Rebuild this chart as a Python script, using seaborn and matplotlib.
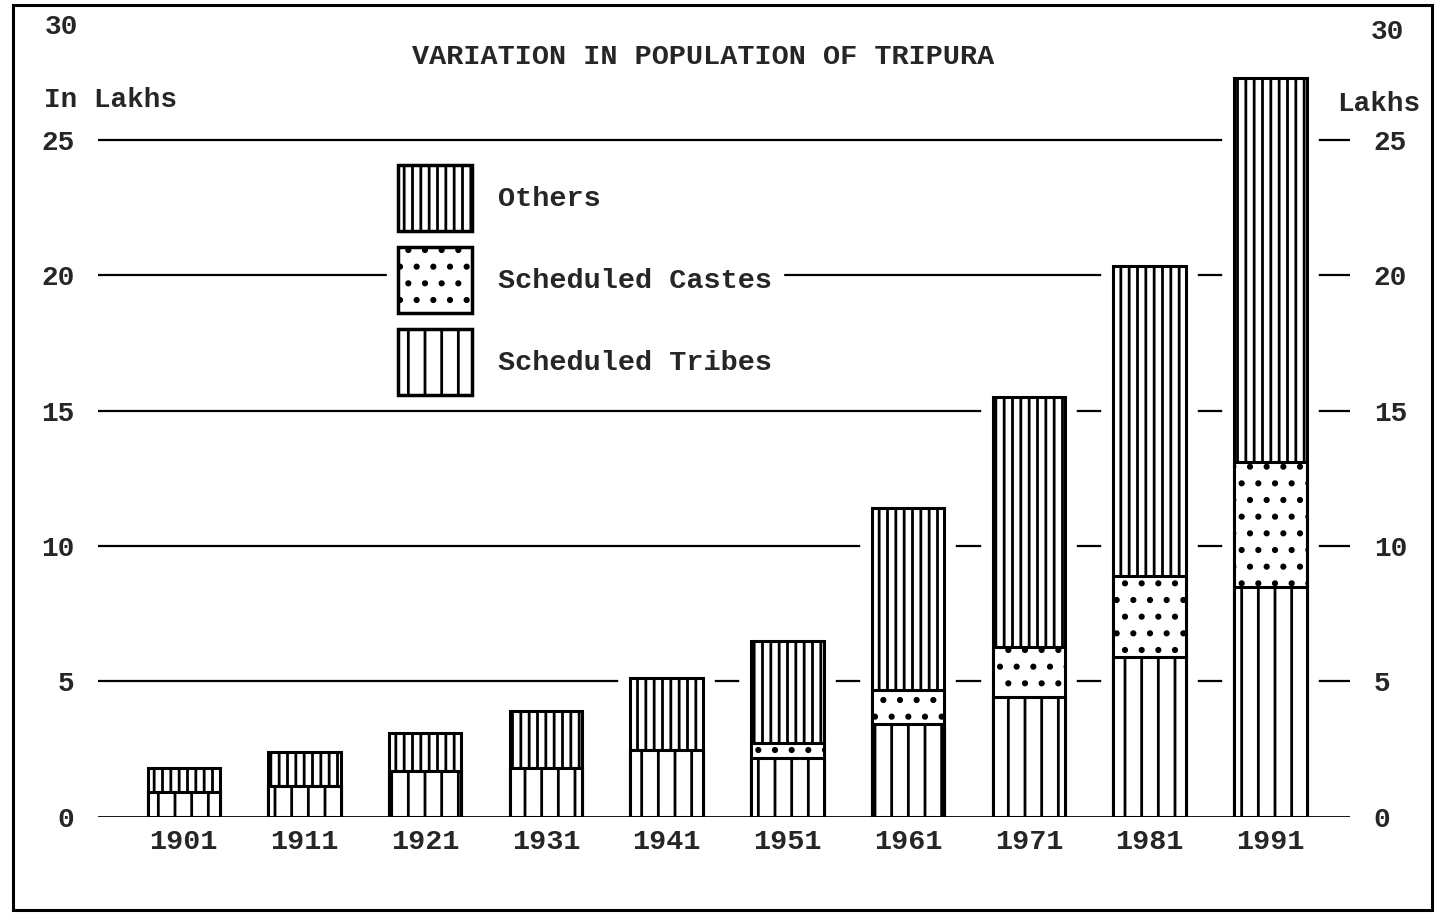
import numpy as np
import pandas as pd
import matplotlib.pyplot as plt
import matplotlib.patches as mpatches
import seaborn as sns

# population of Tripura, in lakhs
years = ['1901', '1911', '1921', '1931', '1941', '1951', '1961', '1971', '1981', '1991']
tribes = [0.92, 1.14, 1.70, 1.81, 2.47, 2.18, 3.43, 4.43, 5.90, 8.49]
castes = [0.00, 0.00, 0.00, 0.00, 0.00, 0.55, 1.26, 1.84, 2.99, 4.61]
others = [0.89, 1.26, 1.40, 2.10, 2.66, 3.76, 6.71, 9.23, 11.44, 14.17]
y_ticks = [0, 5, 10, 15, 20, 25]

df = pd.DataFrame({'year': years, 'tribes': tribes, 'castes': castes, 'others': others})
df['sc_top'] = df['tribes'] + df['castes']
df['total'] = df['sc_top'] + df['others']

sns.set_style('white')
plt.rcParams['font.family'] = ['Liberation Mono', 'DejaVu Sans Mono']
plt.rcParams['font.weight'] = 'bold'
plt.rcParams['hatch.linewidth'] = 2.0
FS = 20.5

fig = plt.figure(figsize=(14.35, 9.17), dpi=100)
ax = fig.add_axes([0.0683, 0.1091, 0.8725, 0.8569])

# grid lines, broken around the bars by a white halo
for v in y_ticks[1:]:
    ax.axhline(v, color='black', lw=1.6, zorder=0)
ax.axhline(0, color='black', lw=2.0, zorder=6)

W = 0.6
sns.barplot(data=df, x='year', y='total', color='white', edgecolor='white',
            linewidth=17, width=W, saturation=1, zorder=1, ax=ax)
sns.barplot(data=df, x='year', y='total', color='white', edgecolor='black',
            linewidth=2.2, width=W, saturation=1, hatch='||', zorder=2, ax=ax)
sns.barplot(data=df, x='year', y='sc_top', color='white', edgecolor='black',
            linewidth=2.2, width=W, saturation=1, hatch='.', zorder=3, ax=ax)
sns.barplot(data=df, x='year', y='tribes', color='white', edgecolor='black',
            linewidth=2.2, width=W, saturation=1, hatch='|', zorder=4, ax=ax)

ax.set_xlim(-0.71, 9.66)
ax.set_ylim(0, 29)
ax.set_yticks(y_ticks)
ax.set_yticklabels([str(v) for v in y_ticks])
ax.tick_params(axis='y', length=0, pad=17, labelsize=20, labelright=True)
ax.tick_params(axis='x', length=0, pad=9, labelsize=FS)
ax.set_xlabel('')
ax.set_ylabel('')
for s in ax.spines.values():
    s.set_visible(False)

# texts around the plot
fig.text(0.49, 0.938, 'VARIATION IN POPULATION OF TRIPURA', ha='center', va='center',
         fontsize=FS, fontweight='bold')
fig.text(0.031, 0.971, '30', ha='left', va='center', fontsize=20, fontweight='bold')
fig.text(0.955, 0.965, '30', ha='left', va='center', fontsize=20, fontweight='bold')
fig.text(0.031, 0.891, 'In Lakhs', ha='left', va='center', fontsize=20, fontweight='bold')
fig.text(0.932, 0.887, 'Lakhs', ha='left', va='center', fontsize=20, fontweight='bold')

handles = [
    mpatches.Patch(facecolor='white', edgecolor='black', lw=2.5, hatch='||', label='Others'),
    mpatches.Patch(facecolor='white', edgecolor='black', lw=2.5, hatch='.', label='Scheduled Castes'),
    mpatches.Patch(facecolor='white', edgecolor='black', lw=2.5, hatch='|', label='Scheduled Tribes'),
]
leg = fig.legend(handles=handles, loc='upper left', bbox_to_anchor=(0.2596, 0.848),
                 fontsize=FS, handlelength=2.6, handleheight=3.2, handletextpad=0.9,
                 labelspacing=0.55, borderpad=0.4, frameon=True, fancybox=False,
                 framealpha=1, edgecolor='white', facecolor='white')
leg.set_zorder(10)

# outer frame of the scanned page
fig.add_artist(mpatches.Rectangle((0.009, 0.008), 0.989, 0.987, transform=fig.transFigure,
                                  fill=False, edgecolor='black', lw=2.2))

plt.savefig('out.png', dpi=100)
plt.close()
